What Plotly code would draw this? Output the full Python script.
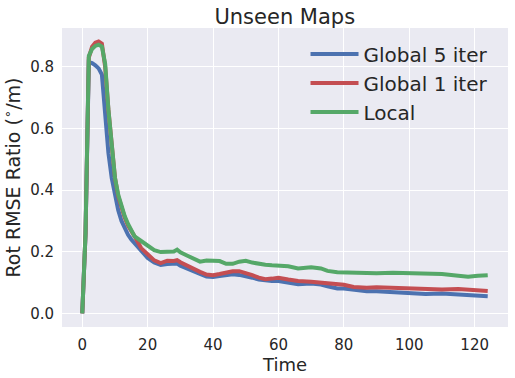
import plotly.graph_objects as go

# valores (Time x razão RMSE de rotação)
tempo = [0, 1, 2, 3, 4, 5, 6, 7, 8, 9, 10, 11, 12, 13, 14, 15, 16, 18, 20, 22, 24, 26, 28, 29, 30,
         32, 34, 36, 38, 40, 42, 44, 46, 48, 50, 52, 54, 56, 58, 60, 63, 66, 70, 73, 75, 78, 80,
         83, 87, 90, 95, 100, 105, 110, 115, 118, 121, 124]

global_5 = [0.0, 0.26, 0.815, 0.812, 0.805, 0.795, 0.775, 0.64, 0.52, 0.44, 0.385, 0.335, 0.30,
            0.275, 0.255, 0.24, 0.228, 0.205, 0.18, 0.165, 0.157, 0.160, 0.160, 0.162, 0.155,
            0.145, 0.138, 0.128, 0.12, 0.118, 0.121, 0.124, 0.127, 0.125, 0.122, 0.116, 0.110,
            0.106, 0.105, 0.105, 0.101, 0.095, 0.097, 0.094, 0.088, 0.081, 0.081, 0.076, 0.072,
            0.072, 0.070, 0.067, 0.063, 0.065, 0.062, 0.060, 0.059, 0.056]

global_1 = [0.0, 0.26, 0.83, 0.865, 0.878, 0.882, 0.875, 0.80, 0.66, 0.54, 0.44, 0.38, 0.34,
            0.31, 0.285, 0.265, 0.25, 0.212, 0.19, 0.172, 0.163, 0.171, 0.170, 0.173, 0.166,
            0.155, 0.145, 0.135, 0.126, 0.124, 0.128, 0.134, 0.137, 0.137, 0.132, 0.124, 0.116,
            0.111, 0.113, 0.116, 0.110, 0.105, 0.103, 0.100, 0.096, 0.092, 0.093, 0.086, 0.083,
            0.085, 0.083, 0.080, 0.078, 0.078, 0.079, 0.078, 0.076, 0.073]

local = [0.0, 0.26, 0.835, 0.858, 0.868, 0.872, 0.866, 0.81, 0.66, 0.54, 0.44, 0.385, 0.345,
         0.315, 0.29, 0.268, 0.25, 0.235, 0.218, 0.205, 0.199, 0.199, 0.201, 0.207, 0.198,
         0.188, 0.178, 0.168, 0.172, 0.172, 0.170, 0.161, 0.161, 0.168, 0.171, 0.165, 0.160,
         0.158, 0.156, 0.155, 0.153, 0.146, 0.150, 0.146, 0.138, 0.134, 0.133, 0.132, 0.131,
         0.130, 0.132, 0.130, 0.127, 0.128, 0.122, 0.119, 0.122, 0.124]

series = [
    ('Global 5 iter', global_5, '#4C72B0'),
    ('Global 1 iter', global_1, '#C44E52'),
    ('Local', local, '#55A868'),
]

fig = go.Figure()
for nome, valores, cor in series:
    fig.add_trace(go.Scatter(x=tempo, y=valores, mode='lines', name=nome,
                             line=dict(color=cor, width=4)))

fonte = 'DejaVu Sans, sans-serif'
eixo = dict(showgrid=True, gridcolor='white', gridwidth=1.2, zeroline=False,
            showline=False, ticks='', tickfont=dict(size=15, color='#262626'),
            ticklabelstandoff=7, automargin=False)

fig.update_layout(
    width=515, height=378,
    margin=dict(l=62, r=7, t=28, b=51),
    paper_bgcolor='white', plot_bgcolor='#EAEAF2',
    font=dict(family=fonte, color='#262626'),
    title=dict(text='Unseen Maps', x=0.553, xanchor='center', y=0.957, yanchor='middle',
               font=dict(size=21, color='#262626')),
    xaxis=dict(eixo, range=[-6.2, 130.2], tickvals=[0, 20, 40, 60, 80, 100, 120],
               title=dict(text='Time', font=dict(size=18), standoff=4)),
    yaxis=dict(eixo, range=[-0.044, 0.926], tickvals=[0, 0.2, 0.4, 0.6, 0.8],
               tickformat='.1f',
               title=dict(text='Rot RMSE Ratio (<sup>∘</sup>/m)', font=dict(size=19), standoff=8)),
    legend=dict(x=0.546, y=0.978, xanchor='left', yanchor='top', bgcolor='rgba(0,0,0,0)',
                font=dict(size=20, color='#262626'), itemwidth=48, tracegroupgap=0),
    showlegend=True,
)

# tira a margem padrão do body para a figura ocupar a janela toda
fig.write_html("out.html", config={'displayModeBar': False},
               post_script="document.body.style.margin='0';")
